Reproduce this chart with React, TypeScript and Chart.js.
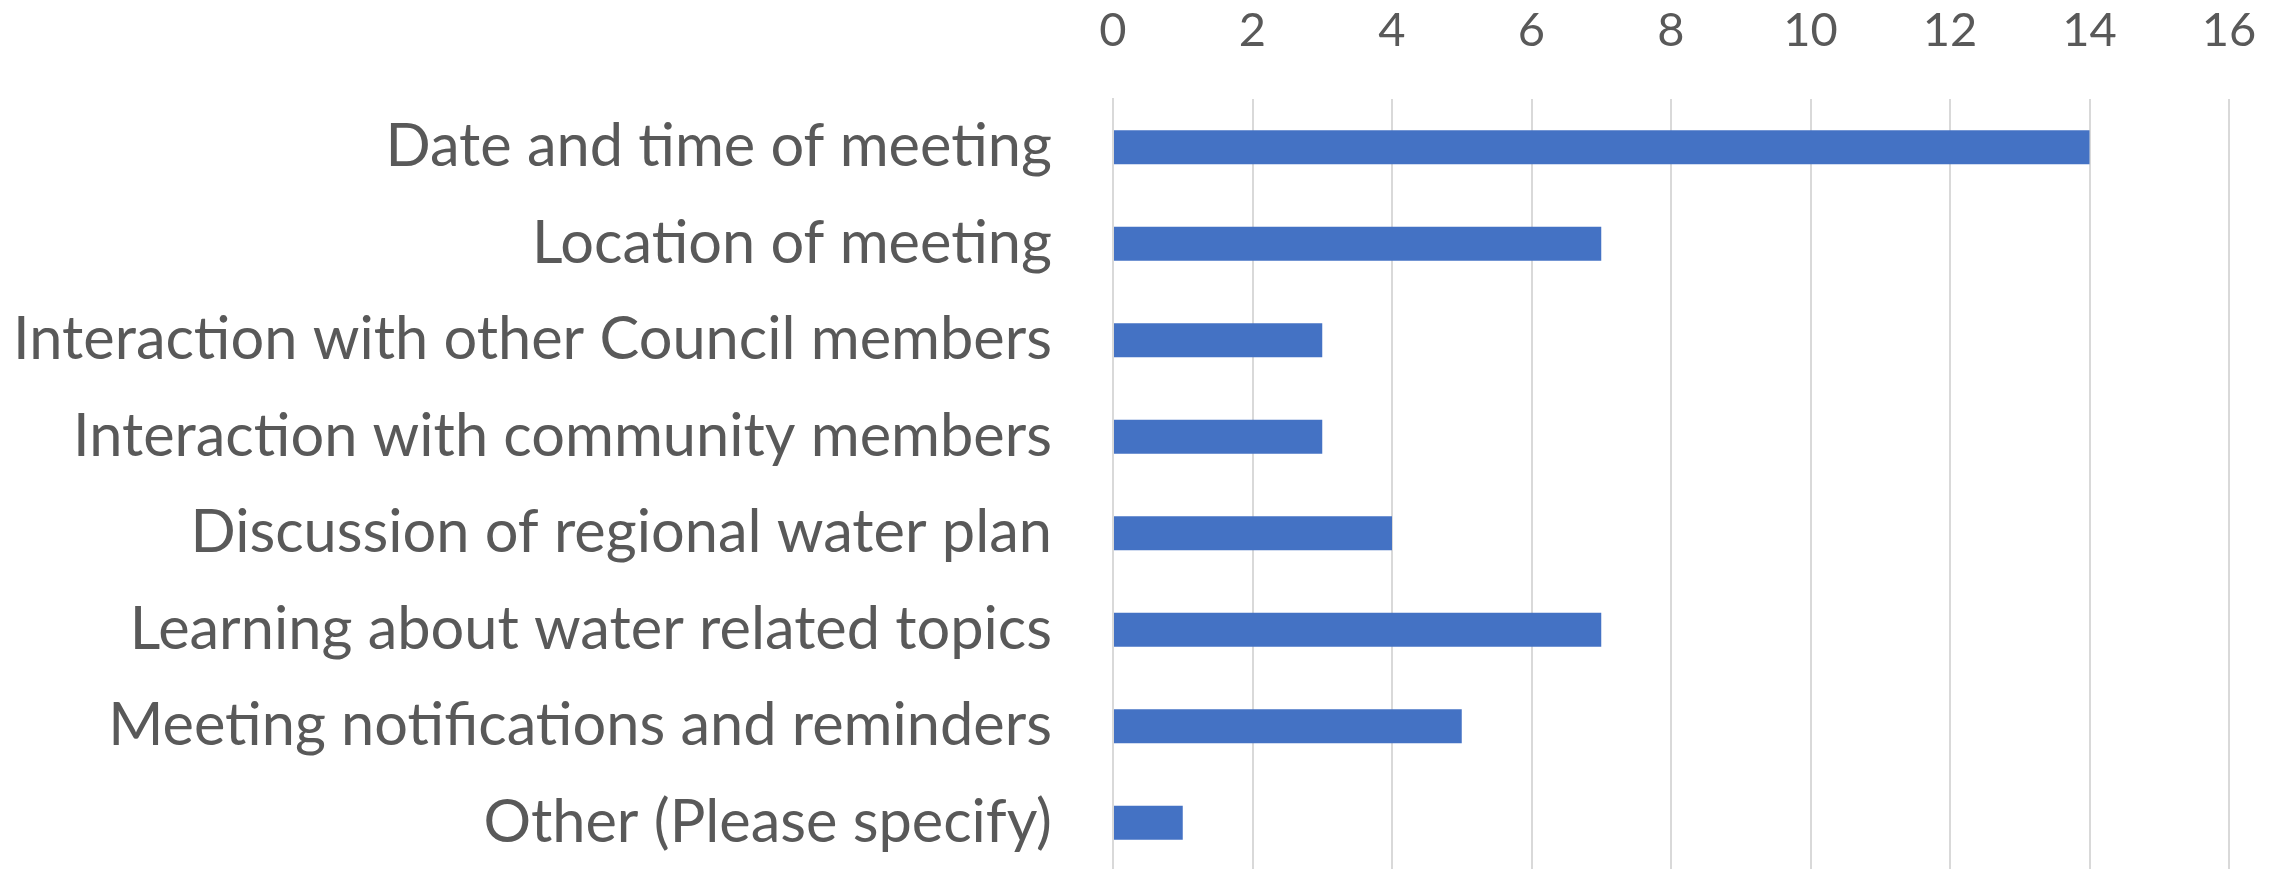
import React, { useEffect, useRef } from "react";
import { Chart, registerables } from "chart.js";

Chart.register(...registerables);

const categories = [
  "Date and time of meeting",
  "Location of meeting",
  "Interaction with other Council members",
  "Interaction with community members",
  "Discussion of regional water plan",
  "Learning about water related topics",
  "Meeting notifications and reminders",
  "Other (Please specify)",
];
const counts = [14, 7, 3, 3, 4, 7, 5, 1];
const axisMin = 0;
const axisMax = 16;
const axisStep = 2;

const FONT = "Lato, 'Open Sans', sans-serif";

export default function App() {
  const ref = useRef<HTMLCanvasElement | null>(null);

  useEffect(() => {
    document.body.style.margin = "0";
    document.body.style.overflow = "hidden";
    const canvas = ref.current;
    if (!canvas) return;
    const chart = new Chart(canvas, {
      type: "bar",
      data: {
        labels: categories,
        datasets: [
          {
            data: counts,
            backgroundColor: "#4472C4",
            borderWidth: 0,
            barPercentage: 0.35,
            categoryPercentage: 1,
          },
        ],
      },
      options: {
        indexAxis: "y",
        animation: false,
        responsive: false,
        maintainAspectRatio: false,
        layout: { padding: { left: 0, top: 0, bottom: 0, right: 55 } },
        plugins: {
          legend: { display: false },
          tooltip: { enabled: false },
          title: { display: false },
        },
        scales: {
          x: {
            position: "top",
            min: axisMin,
            max: axisMax,
            ticks: {
              stepSize: axisStep,
              color: "#595959",
              font: { family: FONT, size: 47 },
              padding: 40,
            },
            grid: {
              color: "#d9d9d9",
              lineWidth: 2,
              drawTicks: false,
            },
            border: { display: false },
            afterFit: (scale: any) => {
              scale.height = 99;
              scale.paddingLeft = 0;
              scale.paddingRight = 0;
            },
          },
          y: {
            ticks: {
              color: "#595959",
              font: { family: FONT, size: 59.5 },
              padding: 61,
              autoSkip: false,
            },
            grid: { display: false, drawTicks: false },
            border: { display: true, color: "#d9d9d9", width: 2 },
            afterFit: (scale: any) => {
              scale.width = 1113;
              scale.paddingTop = 0;
              scale.paddingBottom = 0;
            },
          },
        },
      },
    });
    return () => chart.destroy();
  }, []);

  return (
    <div style={{ position: "absolute", left: 0, top: 0, width: 2284, height: 871, background: "#ffffff" }}>
      <canvas ref={ref} width={2284} height={871} style={{ width: 2284, height: 871, display: "block" }} />
    </div>
  );
}
